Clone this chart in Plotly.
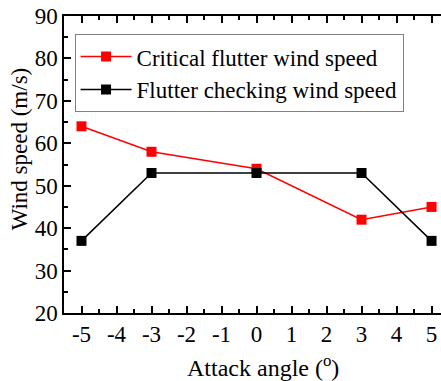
import plotly.graph_objects as go

angles = [-5, -3, 0, 3, 5]
critical = [64, 58, 54, 42, 45]
checking = [37, 53, 53, 53, 37]
x_ticks = [-5, -4, -3, -2, -1, 0, 1, 2, 3, 4, 5]
y_ticks = [20, 30, 40, 50, 60, 70, 80, 90]
x_title = "Attack angle (<sup>o</sup>)"
y_title = "Wind speed (m/s)"

FONT = "'Liberation Serif', 'Times New Roman', Times, serif"

fig = go.Figure()
fig.add_trace(go.Scatter(x=angles, y=critical, mode="lines+markers",
                         name="Critical flutter wind speed",
                         line=dict(color="#ff0000", width=1.5),
                         marker=dict(symbol="square", size=10, color="#ff0000")))
fig.add_trace(go.Scatter(x=angles, y=checking, mode="lines+markers",
                         name="Flutter checking wind speed",
                         line=dict(color="#000000", width=1.5),
                         marker=dict(symbol="square", size=10, color="#000000")))

fig.update_layout(
    width=441, height=381,
    margin=dict(l=64, r=0, t=16, b=68),
    paper_bgcolor="white", plot_bgcolor="white",
    font=dict(family=FONT, size=23, color="black"),
    showlegend=True,
    legend=dict(x=0.028, y=0.939, xanchor="left", yanchor="top",
                bgcolor="white", bordercolor="#808080", borderwidth=1,
                font=dict(family=FONT, size=23), tracegroupgap=0,
                itemwidth=51),
    xaxis=dict(range=[-5.5, 5.27], tickvals=x_ticks,
               ticktext=[str(v) for v in x_ticks],
               showgrid=False, zeroline=False, showline=True,
               linecolor="black", linewidth=1.5, mirror="ticks",
               ticks="inside", ticklen=7, tickwidth=1.5, tickcolor="black",
               minor=dict(dtick=0.5, tick0=0, ticks="inside", ticklen=4,
                          tickwidth=1.5, tickcolor="black", showgrid=False),
               tickfont=dict(family=FONT, size=23)),
    yaxis=dict(range=[20, 90], tickvals=y_ticks,
               showgrid=False, zeroline=False, showline=True,
               linecolor="black", linewidth=1.5,
               ticks="inside", ticklen=7, tickwidth=1.5, tickcolor="black",
               minor=dict(dtick=5, tick0=0, ticks="inside", ticklen=4,
                          tickwidth=1.5, tickcolor="black", showgrid=False),
               tickfont=dict(family=FONT, size=23)),
    annotations=[
        dict(text=x_title, xref="paper", yref="paper", x=0.529, y=-0.178,
             xanchor="center", yanchor="middle", showarrow=False,
             font=dict(family=FONT, size=24)),
        dict(text=y_title, xref="paper", yref="paper", x=-0.117, y=0.554,
             xanchor="center", yanchor="middle", showarrow=False, textangle=-90,
             font=dict(family=FONT, size=23)),
    ],
)

fig.write_html("out.html")
